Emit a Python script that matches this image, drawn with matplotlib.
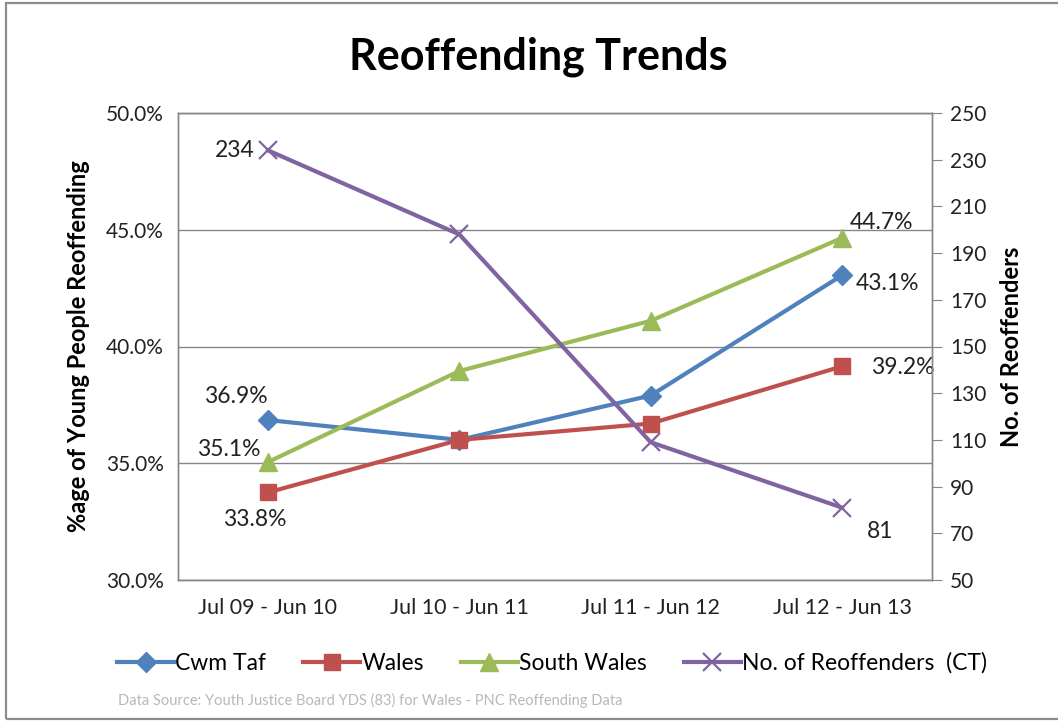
import numpy as np
import matplotlib.pyplot as plt
from matplotlib.patches import Rectangle

plt.rcParams['font.family'] = ['Lato', 'DejaVu Sans']

periods = ['Jul 09 - Jun 10', 'Jul 10 - Jun 11', 'Jul 11 - Jun 12', 'Jul 12 - Jun 13']
cwm_taf = [36.85, 36.0, 37.9, 43.05]
wales = [33.75, 36.0, 36.7, 39.15]
south_wales = [35.05, 38.95, 41.1, 44.65]
reoffenders = [234, 198, 109, 81]

blue = '#4F81BD'
red = '#C0504D'
green = '#9BBB59'
purple = '#8064A2'
grey = '#868686'

fig = plt.figure(figsize=(10.58, 7.22), dpi=100)
fig.patches.append(Rectangle((6 / 1058, 3 / 722), 1.2, 716 / 722, transform=fig.transFigure,
                             fill=False, edgecolor='#8c8c8c', linewidth=1.6))

ax = fig.add_axes([178 / 1058, 1 - 580 / 722, 754 / 1058, 467 / 722])
ax2 = ax.twinx()

x = np.arange(len(periods))
l1, = ax.plot(x, cwm_taf, color=blue, lw=3, marker='D', ms=10, label='Cwm Taf', zorder=4)
l2, = ax.plot(x, wales, color=red, lw=3, marker='s', ms=12, label='Wales', zorder=4)
l3, = ax.plot(x, south_wales, color=green, lw=3, marker='^', ms=13, label='South Wales', zorder=4)
l4, = ax2.plot(x, reoffenders, color=purple, lw=3, marker='x', ms=13, mew=1.6,
               label='No. of Reoffenders  (CT)', zorder=4)

ax.set_xlim(-0.47, 3.47)
ax.set_ylim(30, 50)
ax.set_yticks([30, 35, 40, 45, 50])
ax.set_yticklabels(['%.1f%%' % v for v in [30, 35, 40, 45, 50]])
ax.set_xticks(x)
ax.set_xticklabels(periods)
ax.grid(axis='y', color=grey, lw=1.0)
ax.tick_params(axis='both', length=0, labelsize=15, colors='#222222', pad=10)
ax.tick_params(axis='x', labelsize=15.5, pad=13)

ax2.set_ylim(50, 250)
ax2.set_yticks(np.arange(50, 251, 20))
ax2.tick_params(axis='y', length=7, color=grey, labelsize=15, labelcolor='#222222', pad=6)

for a in (ax, ax2):
    for s in a.spines.values():
        s.set_color(grey)
        s.set_linewidth(1.0)

ax.set_ylabel('%age of Young People Reoffending', fontsize=17, fontweight='bold', labelpad=12)
ax2.set_ylabel('No. of Reoffenders', fontsize=17, fontweight='bold', labelpad=10)

# data labels
lab = dict(fontsize=16.5, color='#222222')
ax.text(-0.17, 37.85, '36.9%', ha='center', va='center', **lab)
ax.text(-0.04, 35.6, '35.1%', ha='right', va='center', **lab)
ax.text(-0.07, 32.57, '33.8%', ha='center', va='center', **lab)
ax.text(3.04, 45.33, '44.7%', ha='left', va='center', **lab)
ax.text(3.07, 42.68, '43.1%', ha='left', va='center', **lab)
ax.text(3.15, 39.12, '39.2%', ha='left', va='center', **lab)
ax2.text(-0.07, 234, '234', ha='right', va='center', **lab)
ax2.text(3.2, 70.6, '81', ha='center', va='center', **lab)

fig.text(538 / 1058, 1 - 57 / 722, 'Reoffending Trends', ha='center', va='center',
         fontsize=31, fontweight='bold')

fig.legend(handles=[l1, l2, l3, l4], loc='center', bbox_to_anchor=(552 / 1058, 1 - 663 / 722),
           ncol=4, frameon=False, fontsize=16.5, handlelength=2.5, handletextpad=0.05,
           columnspacing=1.6)

fig.text(118 / 1058, 1 - 700 / 722,
         'Data Source: Youth Justice Board YDS (83) for Wales - PNC Reoffending Data',
         ha='left', va='center', fontsize=10.5, color='#b8b8b8')

fig.savefig('out.png', dpi=100)
